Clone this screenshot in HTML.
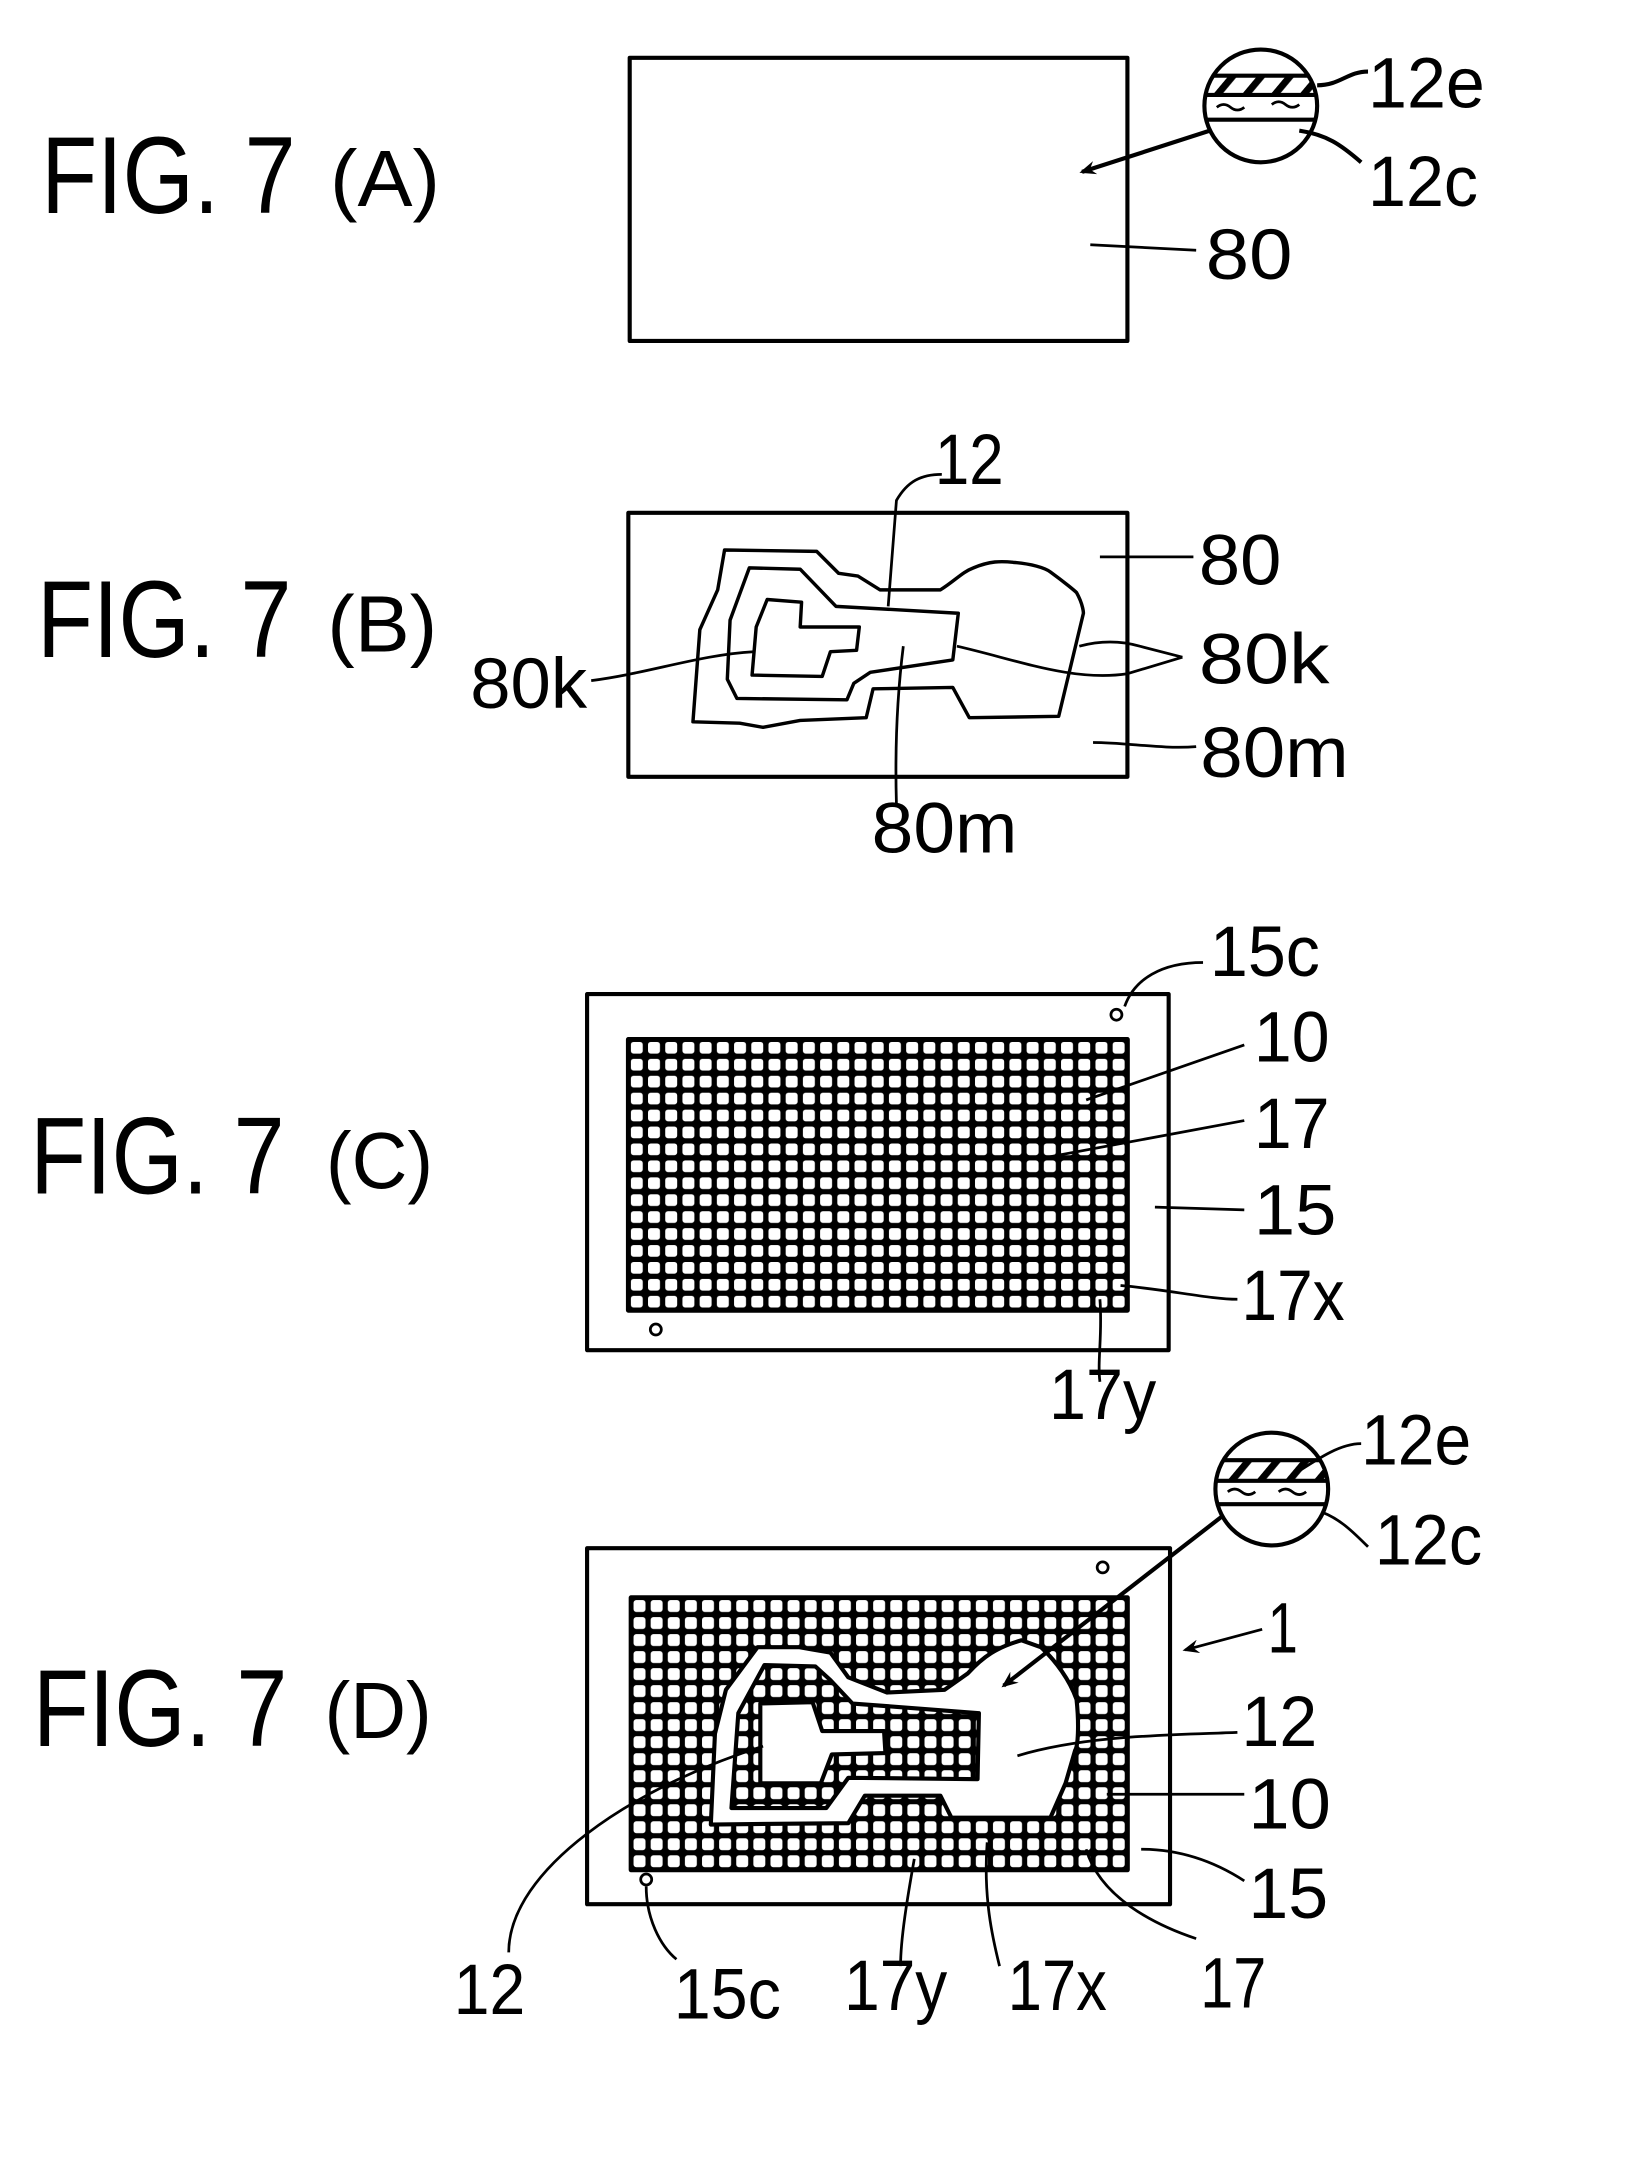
<!DOCTYPE html>
<html><head><meta charset="utf-8"><style>
html,body{margin:0;padding:0;background:#fff;}
svg{display:block;}
text{font-family:"Liberation Sans",sans-serif;fill:#000;}
.fig{font-size:80px;}
.par{font-size:58px;}
.lb{font-size:52px;}
</style></head><body>
<svg width="1632" height="2160" viewBox="0 0 1187 1571" xmlns="http://www.w3.org/2000/svg">
<defs>
<pattern id="grid" x="457" y="756" width="12.517" height="12.3125" patternUnits="userSpaceOnUse">
<rect width="12.517" height="12.3125" fill="#000"/>
<rect x="1.8" y="1.8" width="8.7" height="8.5" rx="2" fill="#fff"/>
</pattern>
<pattern id="grid2" x="459" y="1162" width="12.448" height="12.375" patternUnits="userSpaceOnUse">
<rect width="12.448" height="12.375" fill="#000"/>
<rect x="1.8" y="1.8" width="8.7" height="8.6" rx="2" fill="#fff"/>
</pattern>
<pattern id="hatch" width="16" height="16" patternUnits="userSpaceOnUse" patternTransform="rotate(40)">
<rect width="16" height="16" fill="#fff"/><rect width="5" height="16" fill="#000"/>
</pattern>
<clipPath id="c1"><circle cx="917" cy="77" r="41"/></clipPath>
<clipPath id="c2"><circle cx="925" cy="1083" r="41"/></clipPath>
<marker id="ah" markerWidth="12" markerHeight="10" refX="10" refY="5" orient="auto" markerUnits="userSpaceOnUse"><path d="M0,0 L12,5 L0,10 L4,5 Z" fill="#000"/></marker>
</defs>
<g fill="none" stroke="#000" stroke-width="3" stroke-linejoin="round">
<rect x="458" y="42" width="362" height="206"/>
<g clip-path="url(#c1)">
<rect x="870" y="55" width="100" height="14" fill="url(#hatch)" stroke="none"/>
<line x1="870" y1="55" x2="970" y2="55"/><line x1="870" y1="69" x2="970" y2="69"/><line x1="870" y1="87" x2="970" y2="87"/>
<path d="M885,78 q5,-4 10,0 t10,0 M925,76 q5,-4 10,0 t10,0" stroke-width="2"/>
</g>
<circle cx="917" cy="77" r="41"/>
<path d="M958,62 C975,62 980,52 995,52"/>
<path d="M945,95 C965,98 975,105 990,118"/>
<path d="M880,95 L787,125" marker-end="url(#ah)"/>
<path d="M793,178 L870,182" stroke-width="2"/>
<rect x="457" y="373" width="363" height="192"/>
<path d="M527,400 L594,401 L610,417 L624,419 L640,429 L684,429 C695,422 700,416 708,413 C720,408 728,408 737,409 C750,410 760,413 764,416 C775,424 782,430 783,431 C788,440 788,446 788,446 L770,521 L705,522 L693,500 L635,501 L630,522 L582,524 L555,529 L538,526 L504,525 L509,458 L522,429 Z" stroke-width="2.5"/>
<path d="M545,413 L582,414 L608,441 L697,446 L693,480 L633,489 L621,497 L616,509 L536,508 L529,494 L531,451 Z" stroke-width="2.5"/>
<path d="M558,436 L583,438 L582,456 L625,456 L623,473 L604,474 L598,492 L547,491 L550,456 Z" stroke-width="2.5"/>
<path d="M646,441 L652,364 C660,350 670,345 685,345" stroke-width="2"/>
<path d="M430,495 C470,490 510,476 548,474" stroke-width="2"/>
<path d="M696,470 C740,480 780,496 820,490 L860,478 M785,470 C800,466 815,466 829,470 L860,478" stroke-width="2"/>
<path d="M657,470 C652,510 651,550 652,585" stroke-width="2"/>
<path d="M800,405 L868,405" stroke-width="2"/>
<path d="M795,540 C820,540 845,545 870,543" stroke-width="2"/>
<rect x="427" y="723" width="423" height="259"/>
<rect x="457" y="756" width="363" height="197" fill="url(#grid)" stroke-width="3.5"/>
<circle cx="812" cy="738" r="4" stroke-width="2"/>
<circle cx="477" cy="967" r="4" stroke-width="2"/>
<path d="M818,732 C825,712 845,700 875,700" stroke-width="2"/>
<path d="M790,800 L905,760" stroke-width="2"/>
<path d="M760,842 L905,815" stroke-width="2"/>
<path d="M840,878 L905,880" stroke-width="2"/>
<path d="M815,935 C850,938 880,945 900,945" stroke-width="2"/>
<path d="M800,945 C802,970 798,990 800,1005" stroke-width="2"/>
<rect x="427" y="1126" width="424" height="259"/>
<rect x="459" y="1162" width="361" height="198" fill="url(#grid2)" stroke-width="3.5"/>
<path d="M517,1327 L520,1261 L528,1229 L551,1198 L581,1198 L604,1202 L617,1220 L645,1231 L687,1229 L704,1217 C715,1205 725,1198 743,1193 L757,1198 C768,1208 778,1222 783,1236 C785,1255 784,1270 782,1273 L775,1297 L764,1322 L692,1322 L684,1306 L629,1306 L617,1326 Z M532,1315 L601,1315 L617,1293 L711,1294 L712,1246 L620,1239 L604,1222 L593,1212 L556,1211 L537,1246 Z" fill="#fff" fill-rule="evenodd" stroke-width="3"/>
<path d="M553,1239 L591,1238 L598,1259 L643,1259 L644,1275 L605,1276 L597,1297 L553,1297 Z" fill="#fff" stroke-width="3"/>
<circle cx="802" cy="1140" r="4" stroke-width="2"/>
<circle cx="470" cy="1367" r="4" stroke-width="2"/>
<g clip-path="url(#c2)">
<rect x="878" y="1062" width="100" height="15" fill="url(#hatch)" stroke="none"/>
<line x1="878" y1="1062" x2="975" y2="1062"/><line x1="878" y1="1077" x2="975" y2="1077"/><line x1="878" y1="1094" x2="975" y2="1094"/>
<path d="M893,1085 q5,-4 10,0 t10,0 M930,1085 q5,-4 10,0 t10,0" stroke-width="2"/>
</g>
<circle cx="925" cy="1083" r="41"/>
<path d="M940,1073 C960,1060 975,1050 990,1050" stroke-width="2"/>
<path d="M962,1100 C975,1105 985,1115 995,1125" stroke-width="2"/>
<path d="M890,1102 L730,1226" marker-end="url(#ah)"/>
<path d="M918,1185 L862,1200" marker-end="url(#ah)" stroke-width="2"/>
<path d="M740,1277 C790,1262 850,1262 900,1260" stroke-width="2"/>
<path d="M555,1270 C460,1300 370,1360 370,1420" stroke-width="2"/>
<path d="M805,1305 L905,1305" stroke-width="2"/>
<path d="M830,1345 C860,1345 885,1355 905,1368" stroke-width="2"/>
<path d="M790,1345 C800,1380 840,1400 870,1410" stroke-width="2"/>
<path d="M718,1340 C715,1380 722,1410 727,1430" stroke-width="2"/>
<path d="M665,1352 C660,1380 655,1410 655,1430" stroke-width="2"/>
<path d="M470,1372 C470,1395 480,1415 492,1425" stroke-width="2"/>
</g>
<text class="fig" x="30" y="155" textLength="185" lengthAdjust="spacingAndGlyphs">FIG. 7</text>
<text class="par" x="240" y="150" textLength="80" lengthAdjust="spacingAndGlyphs">(A)</text>
<text class="fig" x="27" y="478" textLength="185" lengthAdjust="spacingAndGlyphs">FIG. 7</text>
<text class="par" x="238" y="474" textLength="80" lengthAdjust="spacingAndGlyphs">(B)</text>
<text class="fig" x="22" y="868" textLength="185" lengthAdjust="spacingAndGlyphs">FIG. 7</text>
<text class="par" x="237" y="864" textLength="78" lengthAdjust="spacingAndGlyphs">(C)</text>
<text class="fig" x="24" y="1270" textLength="185" lengthAdjust="spacingAndGlyphs">FIG. 7</text>
<text class="par" x="236" y="1264" textLength="78" lengthAdjust="spacingAndGlyphs">(D)</text>
<g class="lb">
<text class="lb" x="995" y="78" textLength="85" lengthAdjust="spacingAndGlyphs">12e</text>
<text class="lb" x="995" y="150" textLength="80" lengthAdjust="spacingAndGlyphs">12c</text>
<text class="lb" x="877" y="203" textLength="63" lengthAdjust="spacingAndGlyphs">80</text>
<text class="lb" x="680" y="352" textLength="50" lengthAdjust="spacingAndGlyphs">12</text>
<text class="lb" x="872" y="425" textLength="60" lengthAdjust="spacingAndGlyphs">80</text>
<text class="lb" x="872" y="497" textLength="95" lengthAdjust="spacingAndGlyphs">80k</text>
<text class="lb" x="342" y="515" textLength="85" lengthAdjust="spacingAndGlyphs">80k</text>
<text class="lb" x="873" y="565" textLength="108" lengthAdjust="spacingAndGlyphs">80m</text>
<text class="lb" x="634" y="620" textLength="106" lengthAdjust="spacingAndGlyphs">80m</text>
<text class="lb" x="880" y="710" textLength="80" lengthAdjust="spacingAndGlyphs">15c</text>
<text class="lb" x="912" y="772" textLength="55" lengthAdjust="spacingAndGlyphs">10</text>
<text class="lb" x="912" y="835" textLength="55" lengthAdjust="spacingAndGlyphs">17</text>
<text class="lb" x="912" y="898" textLength="60" lengthAdjust="spacingAndGlyphs">15</text>
<text class="lb" x="903" y="960" textLength="75" lengthAdjust="spacingAndGlyphs">17x</text>
<text class="lb" x="763" y="1032" textLength="78" lengthAdjust="spacingAndGlyphs">17y</text>
<text class="lb" x="990" y="1065" textLength="80" lengthAdjust="spacingAndGlyphs">12e</text>
<text class="lb" x="1000" y="1138" textLength="78" lengthAdjust="spacingAndGlyphs">12c</text>
<text class="lb" x="922" y="1202" textLength="22" lengthAdjust="spacingAndGlyphs">1</text>
<text class="lb" x="903" y="1270" textLength="55" lengthAdjust="spacingAndGlyphs">12</text>
<text class="lb" x="908" y="1330" textLength="60" lengthAdjust="spacingAndGlyphs">10</text>
<text class="lb" x="908" y="1395" textLength="58" lengthAdjust="spacingAndGlyphs">15</text>
<text class="lb" x="330" y="1465" textLength="52" lengthAdjust="spacingAndGlyphs">12</text>
<text class="lb" x="490" y="1468" textLength="78" lengthAdjust="spacingAndGlyphs">15c</text>
<text class="lb" x="614" y="1462" textLength="75" lengthAdjust="spacingAndGlyphs">17y</text>
<text class="lb" x="733" y="1462" textLength="72" lengthAdjust="spacingAndGlyphs">17x</text>
<text class="lb" x="873" y="1460" textLength="48" lengthAdjust="spacingAndGlyphs">17</text>
</g>
</svg>
</body></html>
